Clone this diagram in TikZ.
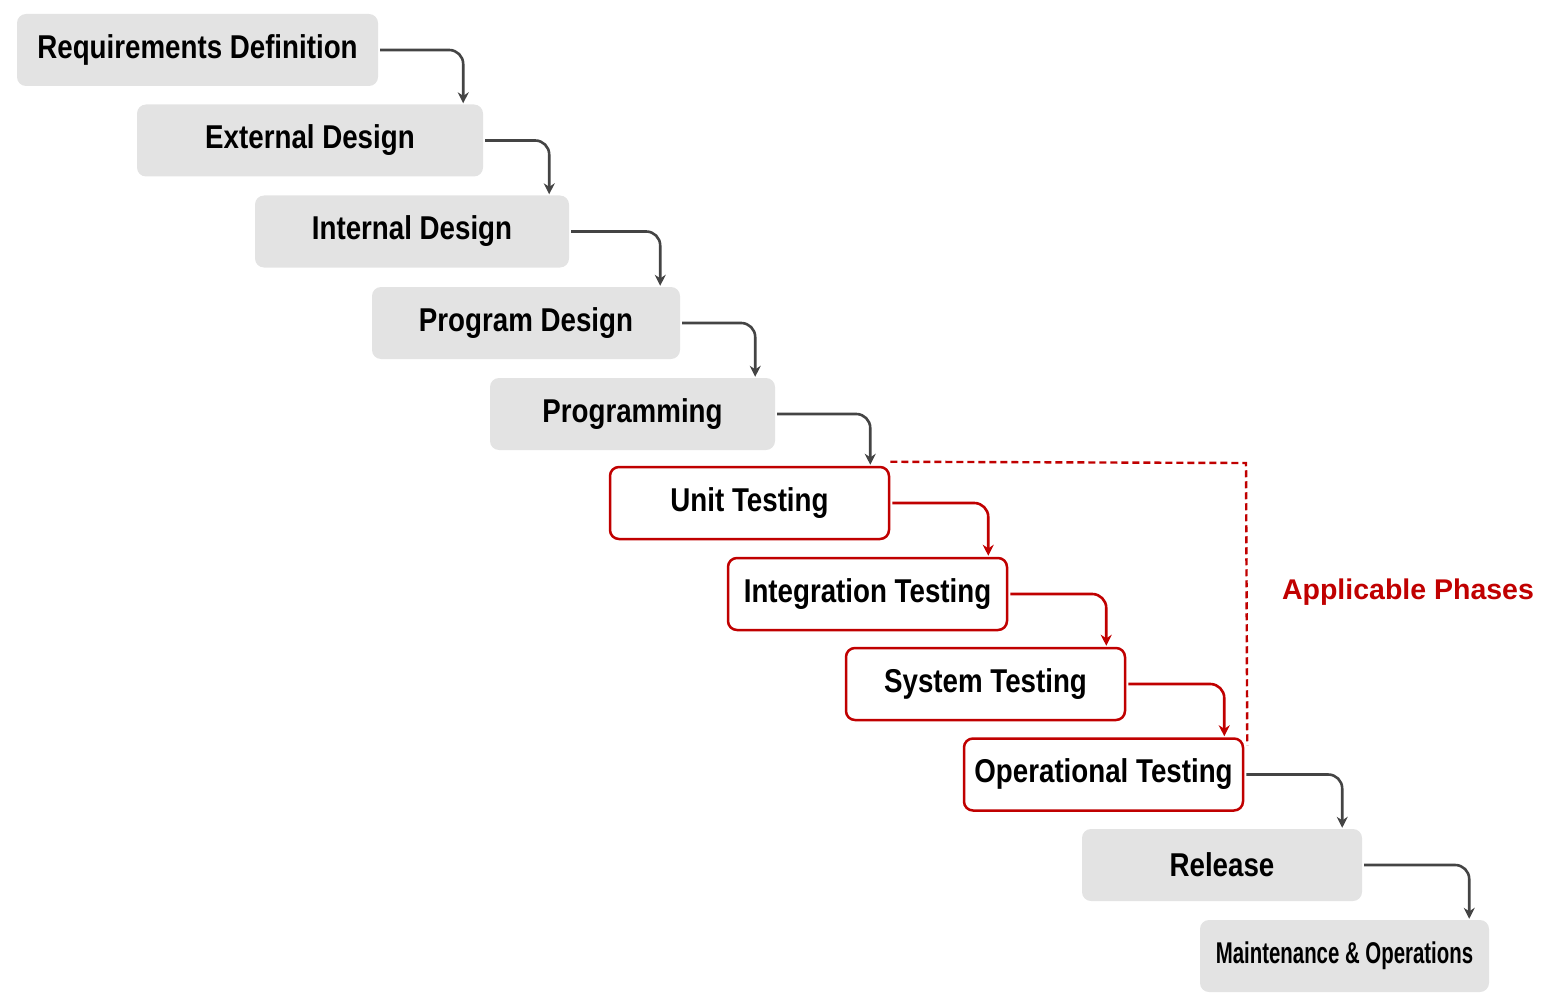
\documentclass[tikz,border=0pt]{standalone}
\usepackage{fontspec}
\setmainfont{Liberation Sans}
\newfontfamily\condf[FakeStretch=0.84]{Liberation Sans}
\newfontfamily\condg[FakeStretch=0.68]{Liberation Sans}
\usetikzlibrary{arrows.meta,calc}
\definecolor{boxgray}{HTML}{E3E3E3}
\definecolor{redc}{HTML}{C00000}
\definecolor{arrg}{HTML}{444444}
\begin{document}
\begin{tikzpicture}[x=1pt,y=-1pt,
  base/.style={rounded corners=9pt,minimum width=#1,minimum height=72pt,inner sep=0pt,font=\condf\fontsize{33}{36}\selectfont\bfseries},
  gbox/.style={base=#1,fill=boxgray},
  rbox/.style={base=#1,fill=white,draw=redc,line width=2.5pt},
  con/.style={draw=arrg,line width=2.6pt,rounded corners=14pt,-{Stealth[length=11pt,width=11pt]}},
  rcon/.style={con,draw=redc}]
\useasboundingbox (0,0) rectangle (1568,1003);
\node[gbox=361pt] (n1) at (197.5,50) {Requirements Definition};
\node[gbox=346pt] (n2) at (310,140.5) {External Design};
\node[gbox=314pt] (n3) at (412,231.5) {Internal Design};
\node[gbox=308pt] (n4) at (526,323) {Program Design};
\node[gbox=285pt] (n5) at (632.5,414) {Programming};
\node[rbox=279pt] (n6) at (749.5,503) {Unit Testing};
\node[rbox=279pt] (n7) at (867.5,594) {Integration Testing};
\node[rbox=279pt] (n8) at (985.5,684) {System Testing};
\node[rbox=279pt] (n9) at (1103.5,774.5) {Operational Testing};
\node[gbox=280pt] (n10) at (1222,865) {Release};
\node[gbox=289pt,font=\condg\fontsize{30}{33}\selectfont\bfseries] (n11) at (1344.5,956) {Maintenance \& Operations};
\foreach \a/\b/\s in {n1/n2/con,n2/n3/con,n3/n4/con,n4/n5/con,n5/n6/con,n6/n7/rcon,n7/n8/rcon,n8/n9/rcon,n9/n10/con,n10/n11/con}{
  \draw[\s] ($(\a.east)+(2,0)$) -| ($(\b.north east)+(-20,-1)$);
}
\draw[redc,line width=2.4pt,dash pattern=on 7pt off 4pt] ($(n6.north east)+(0,-4)$) -- (1246,463) -- ($(n9.north east)+(3,8)$);
\node[text=redc,font=\fontsize{28.5}{32}\selectfont\bfseries] (ap) at (1408,592) {Applicable Phases};
\end{tikzpicture}
\end{document}
